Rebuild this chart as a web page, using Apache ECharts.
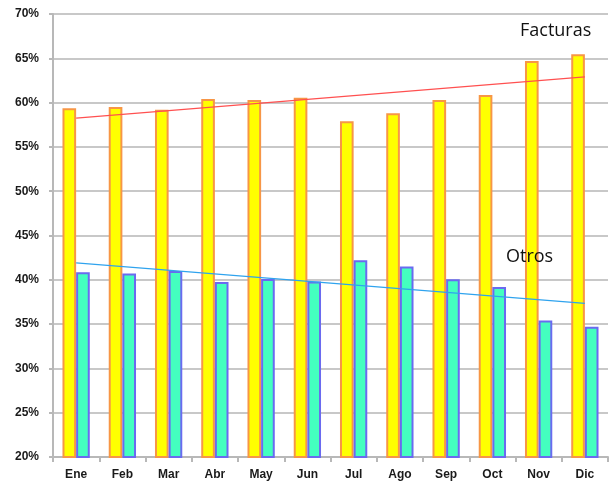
<!DOCTYPE html>
<html>
<head>
<meta charset="utf-8">
<script src="https://cdn.jsdelivr.net/npm/echarts@6/dist/echarts.min.js"></script>
<style>
  html, body { margin: 0; padding: 0; background: #fff; }
  #chart { width: 610px; height: 483px; }
</style>
</head>
<body>
<div id="chart"></div>
<script>
  // meses
  var months = ['Ene', 'Feb', 'Mar', 'Abr', 'May', 'Jun', 'Jul', 'Ago', 'Sep', 'Oct', 'Nov', 'Dic'];
  // porcentajes
  var facturas = [59.35, 59.5, 59.2, 60.4, 60.3, 60.55, 57.9, 58.8, 60.3, 60.85, 64.7, 65.45];
  var otros = [40.85, 40.7, 41.0, 39.75, 40.1, 39.8, 42.2, 41.5, 40.05, 39.2, 35.4, 34.7];
  // lineas de tendencia (inicio Ene, fin Dic)
  var trendFacturas = [58.25, 62.9];
  var trendOtros = [41.9, 37.35];
  var yTicks = [20, 25, 30, 35, 40, 45, 50, 55, 60, 65, 70];

  var chart = echarts.init(document.getElementById('chart'));

  var option = {
    animation: false,
    grid: { left: 53, right: 2, top: 14, bottom: 26 },
    xAxis: {
      type: 'category',
      data: months,
      axisLine: { lineStyle: { color: '#b8b8b8', width: 2 } },
      axisTick: { show: true, length: 5, lineStyle: { color: '#b8b8b8', width: 2 } },
      axisLabel: {
        color: '#1a1a1a', fontWeight: 'bold', fontSize: 12,
        fontFamily: 'Liberation Sans, Arial', margin: 12
      }
    },
    yAxis: {
      type: 'value',
      min: yTicks[0],
      max: yTicks[yTicks.length - 1],
      interval: 5,
      axisLine: { show: true, lineStyle: { color: '#b8b8b8', width: 2 } },
      axisTick: { show: true, length: 4, lineStyle: { color: '#b8b8b8', width: 2 } },
      splitLine: { lineStyle: { color: '#c8c8c8', width: 2 } },
      axisLabel: {
        color: '#1a1a1a', fontWeight: 'bold', fontSize: 12,
        fontFamily: 'Liberation Sans, Arial', margin: 14,
        formatter: function (v) { return v + '%'; }
      }
    },
    series: [
      {
        name: 'Facturas',
        type: 'bar',
        data: facturas,
        barGap: '0%',
        barCategoryGap: '41%',
        itemStyle: { color: '#ffff00', borderColor: '#f79646', borderWidth: 2 }
      },
      {
        name: 'Otros',
        type: 'bar',
        data: otros,
        itemStyle: { color: '#44ffbf', borderColor: '#6a6af0', borderWidth: 2 }
      },
      {
        name: 'Tendencia Facturas',
        type: 'line',
        data: [[months[0], trendFacturas[0]], [months[11], trendFacturas[1]]],
        symbol: 'none',
        lineStyle: { color: '#ff5050', width: 1.2 },
        z: 5
      },
      {
        name: 'Tendencia Otros',
        type: 'line',
        data: [[months[0], trendOtros[0]], [months[11], trendOtros[1]]],
        symbol: 'none',
        lineStyle: { color: '#2fa3ee', width: 1.2 },
        z: 5
      }
    ],
    graphic: [
      {
        type: 'text', left: 520, top: 22, z: 100,
        style: { text: 'Facturas', fontSize: 18, fill: '#111', fontFamily: 'Open Sans, Noto Sans, sans-serif' }
      },
      {
        type: 'text', left: 506, top: 248, z: 100,
        style: { text: 'Otros', fontSize: 18, fill: '#111', fontFamily: 'Open Sans, Noto Sans, sans-serif' }
      }
    ]
  };

  chart.setOption(option);
</script>
</body>
</html>
